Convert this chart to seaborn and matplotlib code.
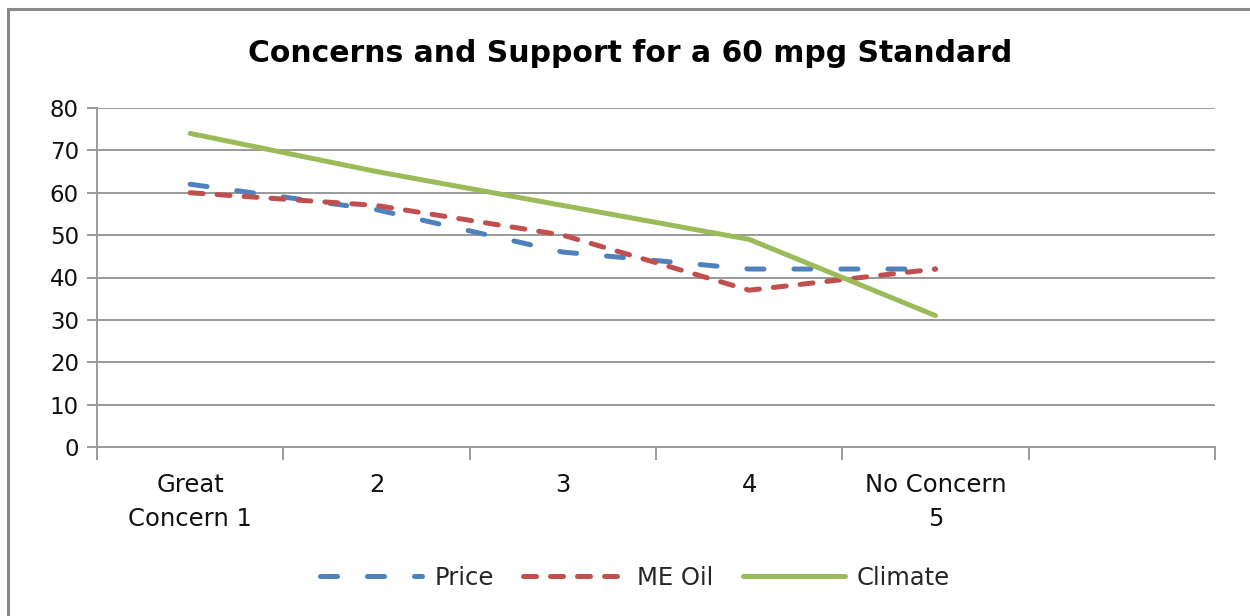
import numpy as np
import pandas as pd
import seaborn as sns
import matplotlib.pyplot as plt
from matplotlib.patches import Rectangle

# chart data
categories = ['Great\nConcern 1', '2', '3', '4', 'No Concern\n5']
price = [62, 56, 46, 42, 42]
me_oil = [60, 57, 50, 37, 42]
climate = [74, 65, 57, 49, 31]
series_names = ['Price', 'ME Oil', 'Climate']
y_ticks = [0, 10, 20, 30, 40, 50, 60, 70, 80]

colors = {'Price': '#4F81BD', 'ME Oil': '#C0504D', 'Climate': '#9BBB59'}
dash_styles = {'Price': (3.4, 6.0), 'ME Oil': (2.6, 2.8), 'Climate': ''}

sns.set_theme(style='white')
plt.rcParams['font.family'] = ['DejaVu Sans']
plt.rcParams['lines.dash_capstyle'] = 'round'
plt.rcParams['lines.solid_capstyle'] = 'round'

# long-format table
frames = []
for name, vals in zip(series_names, [price, me_oil, climate]):
    frames.append(pd.DataFrame({'pos': np.arange(len(categories)),
                                'value': vals, 'series': name}))
data = pd.concat(frames, ignore_index=True)

fig = plt.figure(figsize=(12.5, 6.16), dpi=100)
ax = fig.add_axes([97 / 1250, 1 - 447 / 616, (1215 - 97) / 1250, (447 - 108) / 616])

sns.lineplot(data=data, x='pos', y='value', hue='series', style='series',
             hue_order=series_names, style_order=series_names,
             palette=colors, dashes=dash_styles, linewidth=3.6,
             ax=ax, zorder=3)

# axes styling, Excel-like
ax.set_ylim(0, 80)
ax.set_xlim(-0.5, 5.5)
ax.set_yticks(y_ticks)
ax.yaxis.grid(True, color='#9a9a9a', linewidth=1.4)
ax.set_axisbelow(True)
ax.tick_params(axis='y', which='major', length=7, width=1.4, color='#9a9a9a',
               labelsize=16.5, pad=6, left=True, labelcolor='#111111')

ax.set_xticks(np.arange(-0.5, 6.0, 1.0))
ax.set_xticklabels([])
ax.set_xticks(range(len(categories)), minor=True)
ax.set_xticklabels(categories, minor=True, fontsize=17.5, color='#111111',
                   linespacing=1.5)
ax.tick_params(axis='x', which='major', length=9, width=1.4, color='#9a9a9a',
               bottom=True, direction='out')
ax.tick_params(axis='x', which='minor', length=0, pad=19)

for side in ['top', 'right']:
    ax.spines[side].set_visible(False)
for side in ['left', 'bottom']:
    ax.spines[side].set_color('#9a9a9a')
    ax.spines[side].set_linewidth(1.4)

ax.set_xlabel('')
ax.set_ylabel('')

fig.text(0.504, 1 - 54 / 616, 'Concerns and Support for a 60 mpg Standard',
         ha='center', va='center', fontsize=21.5, fontweight='bold', color='black')

handles, labels = ax.get_legend_handles_labels()
ax.legend(handles, labels, loc='center', bbox_to_anchor=(0.508, 1 - 578 / 616),
          bbox_transform=fig.transFigure, ncol=3, frameon=False, fontsize=17.5,
          handlelength=4.2, handletextpad=0.5, columnspacing=1.2)

# outer chart border (top and left visible)
fig.patches.append(Rectangle((8 / 1250, -0.1), 1.2, 1 - 9 / 616 + 0.1,
                             transform=fig.transFigure, fill=False,
                             edgecolor='#8a8a8a', linewidth=2.2))

fig.savefig('out.png', dpi=100)
